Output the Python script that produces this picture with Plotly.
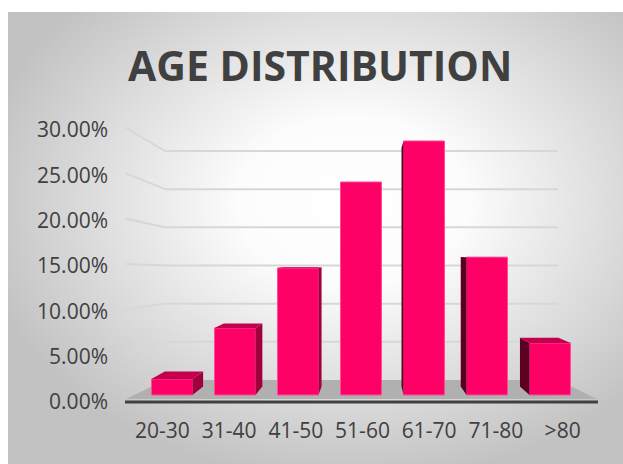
import base64
import plotly.graph_objects as go

# ---------------- data ----------------
categories = ["20-30", "31-40", "41-50", "51-60", "61-70", "71-80", ">80"]
shares = [1.85, 7.73, 14.65, 24.57, 29.30, 15.90, 6.00]   # percent
tick_values = [0, 5, 10, 15, 20, 25, 30]
title_text = "AGE DISTRIBUTION"

# ---------------- geometry helpers ----------------
W, H = 623, 464
L, R, T, B = 129, 27, 130, 62
PW, PH = W - L - R, H - T - B
BASE = H - B  # pixel row of plot bottom


def px(x):
    return (x - L) / PW


def py(y):
    return (BASE - y) / PH


# bar axis: value 0 sits at pixel 395, 8.67 px per percent
bar_scale = 8.67
bar_r0 = -(BASE - 395) / bar_scale
bar_r1 = bar_r0 + PH / bar_scale

# bars sit a little deeper than the labels: their own x scale (63 px per slot, first at 172 px)
slot = 63.0
first = 172.0
bx_r0 = -(first - L) / slot
bx_r1 = bx_r0 + PW / slot

# perspective (in data units): vanishing point and depth factor
VX = (370 - first) / slot
VY = (395 - 255) / bar_scale
K = 0.06
bar_w = 0.65

fig = go.Figure()

fig.add_trace(go.Bar(
    x=list(range(len(categories))), y=shares, width=bar_w, xaxis="x2",
    marker=dict(color="#ff0066", line=dict(color="#ff4d94", width=1)),
    hoverinfo="skip", showlegend=False,
))
fig.add_trace(go.Scatter(
    x=list(range(len(categories))), y=shares, yaxis="y2", mode="markers",
    marker=dict(opacity=0), hoverinfo="skip", showlegend=False,
))

shapes = []

# floor (paper coords)
shapes.append(dict(type="path", xref="paper", yref="paper", layer="below",
                   path=f"M {px(126)},{py(399)} L {px(165)},{py(380)} L {px(558)},{py(380)} L {px(597)},{py(399)} Z",
                   fillcolor="rgb(176,176,176)", line=dict(width=0)))

# gridlines on back wall with diagonal connectors
for v in tick_values[1:]:
    front = BASE - v * PH / 30 - 2
    back = 380 - v * (380 - 151) / 30
    shapes.append(dict(type="line", xref="paper", yref="paper", layer="below",
                       x0=px(126), y0=py(front), x1=px(165), y1=py(back),
                       line=dict(color="rgb(215,215,215)", width=2)))
    shapes.append(dict(type="line", xref="paper", yref="paper", layer="below",
                       x0=px(165), y0=py(back), x1=px(558), y1=py(back),
                       line=dict(color="rgb(215,215,215)", width=2)))

# axis line
shapes.append(dict(type="line", xref="paper", yref="paper", layer="above",
                   x0=px(125), y0=py(402), x1=px(598), y1=py(402),
                   line=dict(color="rgb(64,64,64)", width=3)))


def back(xv, yv):
    return xv + (VX - xv) * K, yv + (VY - yv) * K


def poly(pts):
    return "M " + " L ".join(f"{a},{b}" for a, b in pts) + " Z"


for i, v in enumerate(shares):
    xl, xr = i - bar_w / 2, i + bar_w / 2
    if xr < VX:
        p = [(xr, 0), (xr, v), back(xr, v), back(xr, 0)]
        shapes.append(dict(type="path", xref="x2", yref="y", layer="above",
                           path=poly(p), fillcolor="#a0003e", line=dict(width=0)))
    elif xl > VX:
        p = [(xl, 0), (xl, v), back(xl, v), back(xl, 0)]
        shapes.append(dict(type="path", xref="x2", yref="y", layer="above",
                           path=poly(p), fillcolor="#5c0022", line=dict(width=0)))
    if v < VY:
        p = [(xl, v), (xr, v), back(xr, v), back(xl, v)]
        shapes.append(dict(type="path", xref="x2", yref="y", layer="above",
                           path=poly(p), fillcolor="#c4004e", line=dict(width=0)))

# background radial gradient
bw, bh = 615, 452
svg = (f"<svg xmlns='http://www.w3.org/2000/svg' width='{bw}' height='{bh}' viewBox='0 0 {bw} {bh}' preserveAspectRatio='none'>"
       "<defs><radialGradient id='g' cx='0.56' cy='0.42' r='0.62'>"
       "<stop offset='0' stop-color='rgb(255,255,255)'/>"
       "<stop offset='0.3' stop-color='rgb(252,252,252)'/>"
       "<stop offset='1' stop-color='rgb(194,194,194)'/>"
       "</radialGradient></defs>"
       f"<rect width='{bw}' height='{bh}' fill='url(#g)'/></svg>")
src = "data:image/svg+xml;base64," + base64.b64encode(svg.encode()).decode()

fig.update_layout(
    width=W, height=H,
    margin=dict(l=L, r=R, t=T, b=B),
    paper_bgcolor="white",
    plot_bgcolor="rgba(0,0,0,0)",
    font=dict(family="Open Sans", color="#404040"),
    shapes=shapes,
    images=[dict(source=src, xref="paper", yref="paper", x=px(8), y=py(12),
                 sizex=bw / PW, sizey=bh / PH, xanchor="left", yanchor="top",
                 sizing="stretch", layer="below")],
    annotations=[dict(text=f"<b>{title_text}</b>", xref="paper", yref="paper",
                      x=px(320), y=py(65), xanchor="center", yanchor="middle",
                      showarrow=False, font=dict(family="Open Sans", size=41, color="#404040"))],
    xaxis=dict(range=[-0.5, len(categories) - 0.5], tickvals=list(range(len(categories))),
               ticktext=categories, showgrid=False, zeroline=False, showline=False, ticks="",
               tickfont=dict(size=21, color="#404040"), ticklabelstandoff=14, fixedrange=True),
    xaxis2=dict(range=[bx_r0, bx_r1], overlaying="x", anchor="y", visible=False, fixedrange=True),
    yaxis=dict(range=[bar_r0, bar_r1], visible=False, fixedrange=True),
    yaxis2=dict(range=[0, 30], overlaying="y", side="left", anchor="x",
                tickvals=tick_values, ticktext=[f"{t:.2f}%" for t in tick_values],
                showgrid=False, zeroline=False, showline=False, ticks="",
                tickfont=dict(size=21, color="#404040"), ticklabelstandoff=20, fixedrange=True),
    showlegend=False,
)

fig.write_html("out.html")
